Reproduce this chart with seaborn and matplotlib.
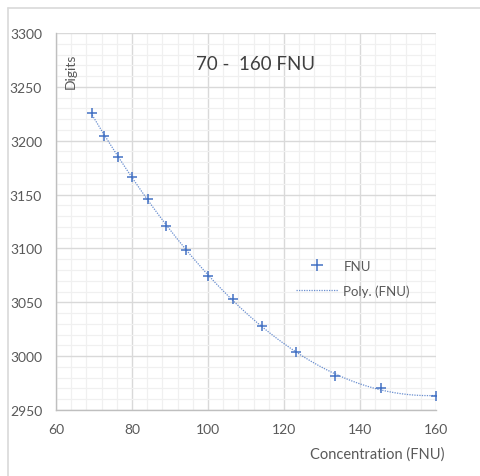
import numpy as np
import pandas as pd
import matplotlib
matplotlib.use("Agg")
import matplotlib.pyplot as plt
from matplotlib.lines import Line2D
from matplotlib.ticker import MultipleLocator
import seaborn as sns

# Calibration readings
concentration = [69.5, 72.6, 76.3, 80.0, 84.2, 88.9, 94.2, 100.0, 106.6, 114.2, 123.2, 133.4, 145.5, 160.0]
digits = [3226, 3204, 3185, 3166, 3146, 3121, 3099, 3074, 3053, 3028, 3004, 2982, 2970, 2963]

title_text = "70 -  160 FNU"
x_label = "Concentration (FNU)"
y_label = "Digits"
series_name = "FNU"
trend_name = "Poly. (FNU)"

sns.set_theme(style="white")
plt.rcParams["font.family"] = ["Lato", "DejaVu Sans"]

blue = "#4472c4"
grey_text = "#595959"

df = pd.DataFrame({"conc": concentration, "digits": digits})

# Second-order polynomial trendline through the readings
coef = np.polyfit(df["conc"], df["digits"], 2)
xs = np.linspace(min(concentration), max(concentration), 200)
trend = pd.DataFrame({"conc": xs, "digits": np.polyval(coef, xs)})

fig = plt.figure(figsize=(4.8, 4.77), dpi=100)
ax = fig.add_axes([56 / 480, 1 - 411 / 477, 380 / 480, 377 / 477])

sns.lineplot(data=trend, x="conc", y="digits", ax=ax, color=blue, lw=0.9,
             linestyle=(0, (1, 1)), alpha=0.8, zorder=3)
sns.scatterplot(data=df, x="conc", y="digits", ax=ax, marker="+", s=55,
                color=blue, linewidth=1.1, zorder=4)

ax.set_xlim(60, 160)
ax.set_ylim(2950, 3300)
ax.xaxis.set_major_locator(MultipleLocator(20))
ax.xaxis.set_minor_locator(MultipleLocator(4))
ax.yaxis.set_major_locator(MultipleLocator(50))
ax.yaxis.set_minor_locator(MultipleLocator(10))
ax.grid(which="major", color="#d9d9d9", lw=1.0)
ax.grid(which="minor", color="#f0f0f0", lw=0.9)
ax.set_axisbelow(True)
for side, sp in ax.spines.items():
    sp.set_visible(side in ("left", "bottom"))
    sp.set_color("#bfbfbf")
    sp.set_linewidth(1.0)
ax.tick_params(axis="both", which="both", length=0, labelsize=10,
               labelcolor=grey_text)
ax.tick_params(axis="x", pad=9)
ax.tick_params(axis="y", pad=10)

ax.set_xlabel("")
ax.set_ylabel("")
ax.text(64.0, 3282, y_label, rotation=90, ha="center", va="top",
        fontsize=10, color=grey_text)
ax.text(112.5, 3272, title_text, ha="center", va="center",
        fontsize=13.5, color="#404040")
fig.text(445 / 480, 1 - 455 / 477, x_label, ha="right", va="center",
         fontsize=10.5, color=grey_text)

handles = [
    Line2D([], [], marker="+", color=blue, linestyle="none", markersize=8,
           markeredgewidth=1.1),
    Line2D([], [], color=blue, lw=0.9, linestyle=(0, (1, 1)), alpha=0.8),
]
ax.legend(handles, [series_name, trend_name], loc="center left",
          bbox_to_anchor=(0.60, 0.35), frameon=False, fontsize=9.5,
          labelcolor=grey_text, handlelength=3.2, handletextpad=0.4,
          labelspacing=0.95)

# Outer chart frame edges
fig.add_artist(Line2D([8 / 480, 1], [1 - 9 / 477, 1 - 9 / 477],
                      color="#d9d9d9", lw=1.2, transform=fig.transFigure))
fig.add_artist(Line2D([8 / 480, 8 / 480], [0, 1 - 9 / 477],
                      color="#d9d9d9", lw=1.2, transform=fig.transFigure))

fig.savefig("out.png", dpi=100, facecolor="white")
